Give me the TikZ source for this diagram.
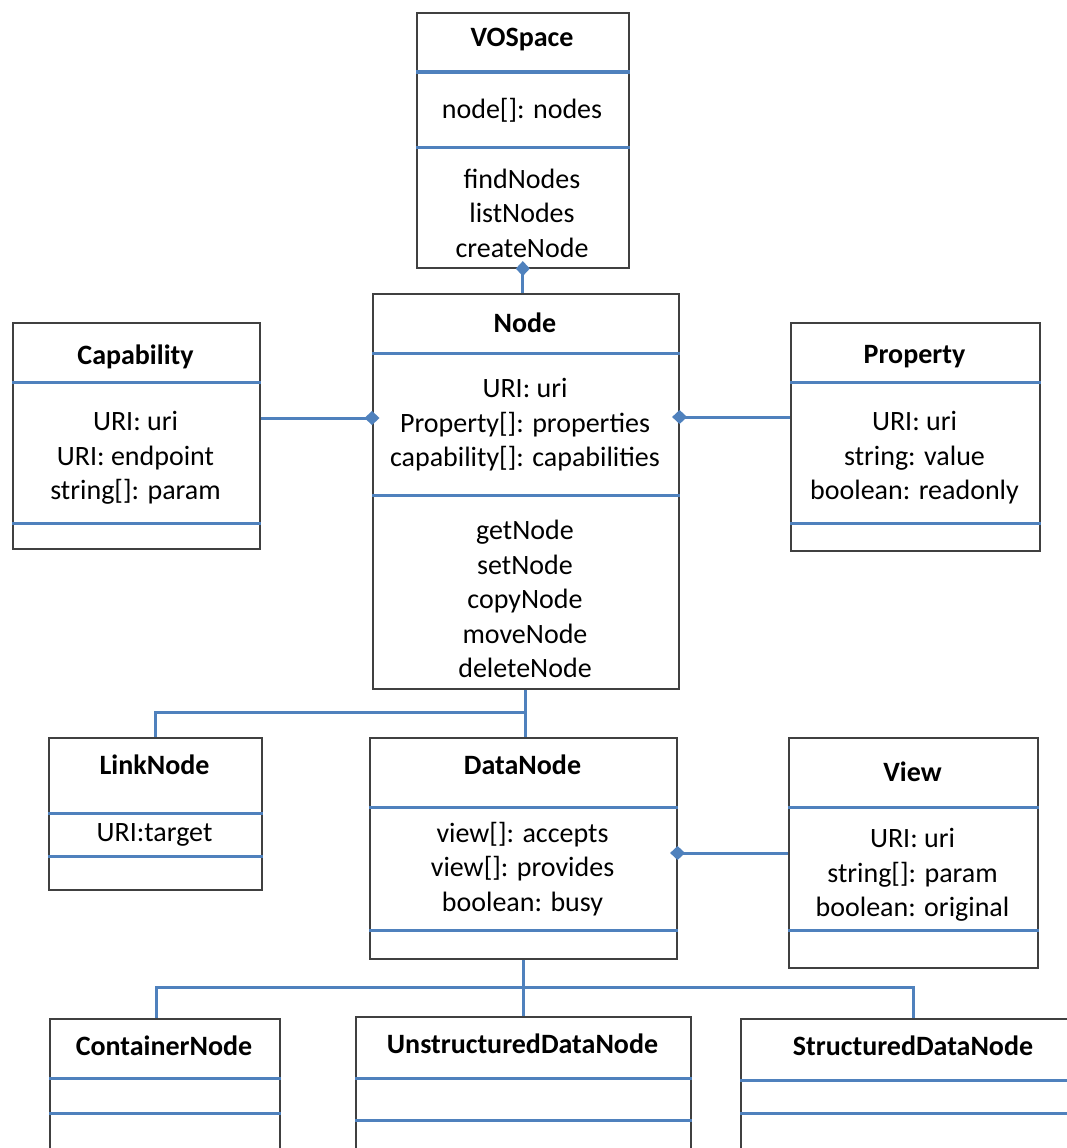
\documentclass[tikz,border=0pt]{standalone}
\usepackage{fontspec}
\setmainfont{Carlito}
\usetikzlibrary{arrows.meta}
\definecolor{umlblue}{RGB}{79,129,189}
\definecolor{umlgray}{RGB}{64,64,64}
\newcommand\UMLbox[5]{\node[umlbox, minimum width=#4pt, minimum height=#5pt, anchor=north west] (#1) at (#2,#3) {};}
\newcommand\UMLdiv[2]{\draw[divider] (#1.west |- 0,#2) -- (#1.east |- 0,#2);}
\begin{document}
\begin{tikzpicture}[x=1pt,y=-1pt,
  umlbox/.style={draw=umlgray, line width=1.6pt, inner sep=0pt, fill=white},
  divider/.style={draw=umlblue, line width=3pt},
  conn/.style={draw=umlblue, line width=3pt},
  agg/.style={conn, -{Diamond[length=15pt,width=14pt]}, shorten >=-7.5pt},
  ttl/.style={font=\fontsize{28}{34.5}\selectfont\bfseries, inner sep=0pt, anchor=center},
  txt/.style={font=\fontsize{28}{34.5}\selectfont, align=center, inner sep=0pt, anchor=center}]
\useasboundingbox (0,0) rectangle (1067,1148);

% boxes
\UMLbox{vos}{416}{12}{212}{255}
\UMLbox{nod}{372}{293}{306}{395}
\UMLbox{cap}{12}{322}{247}{226}
\UMLbox{prop}{790}{322}{249}{228}
\UMLbox{link}{48}{737}{213}{152}
\UMLbox{data}{369}{737}{307}{221}
\UMLbox{view}{788}{737}{249}{230}
\UMLbox{cont}{49}{1018}{230}{160}
\UMLbox{uns}{355}{1016}{335}{160}
\UMLbox{str}{740}{1018}{346}{160}

% dividers
\UMLdiv{vos}{72}\UMLdiv{vos}{147}
\UMLdiv{nod}{353}\UMLdiv{nod}{495}
\UMLdiv{cap}{382}\UMLdiv{cap}{523}
\UMLdiv{prop}{382}\UMLdiv{prop}{523}
\UMLdiv{link}{813}\UMLdiv{link}{856}
\UMLdiv{data}{807}\UMLdiv{data}{930}
\UMLdiv{view}{807}\UMLdiv{view}{930}
\UMLdiv{cont}{1078}\UMLdiv{cont}{1113}
\UMLdiv{uns}{1078}\UMLdiv{uns}{1120}
\UMLdiv{str}{1080}\UMLdiv{str}{1113}

% texts
\node[ttl] (vosT) at (522,40) {VOSpace};
\node[txt] (vosA) at (522,110) {node[]: nodes};
\node[txt] (vosM) at (522,213) {findNodes\\listNodes\\createNode};

\node[ttl] (nodT) at (525,323) {Node};
\node[txt] (nodA) at (525,425) {URI: uri\\Property[]: properties\\capability[]: capabilities};
\node[txt] (nodM) at (525,599) {getNode\\setNode\\copyNode\\moveNode\\deleteNode};

\node[ttl] (capT) at (135.5,357) {Capability};
\node[txt] (capA) at (135.5,458) {URI: uri\\URI: endpoint\\string[]: param};

\node[ttl] (propT) at (914.5,357) {Property};
\node[txt] (propA) at (914.5,458) {URI: uri\\string: value\\boolean: readonly};

\node[ttl] (linkT) at (154.5,765) {LinkNode};
\node[txt] (linkA) at (154.5,835) {URI:target};

\node[ttl] (dataT) at (522.5,765) {DataNode};
\node[txt] (dataA) at (522.5,869) {view[]: accepts\\view[]: provides\\boolean: busy};

\node[ttl] (viewT) at (912.5,772) {View};
\node[txt] (viewA) at (912.5,875) {URI: uri\\string[]: param\\boolean: original};

\node[ttl] (contT) at (164,1046) {ContainerNode};
\node[ttl] (unsT) at (522.5,1044) {UnstructuredDataNode};
\node[ttl] (strT) at (913,1046) {StructuredDataNode};

% connectors
\draw[agg] (nod.north -| vos.south) -- (vos.south);
\draw[agg] (cap.east |- 0,418) -- (nod.west |- 0,418);
\draw[agg] (prop.west |- 0,417) -- (nod.east |- 0,417);
\draw[agg] (view.west |- 0,853) -- (data.east |- 0,853);

\draw[conn] (nod.south) -- (nod.south |- data.north);
\draw[conn] (nod.south |- 0,712) -| (link.north);

\coordinate (contTop) at ([xshift=-8pt]cont.north);
\coordinate (strTop) at ([xshift=0pt]str.north);
\draw[conn] (data.south) -- (data.south |- uns.north);
\draw[conn] (data.south |- 0,987) -| (contTop);
\draw[conn] (data.south |- 0,987) -| (strTop);
\end{tikzpicture}
\end{document}
